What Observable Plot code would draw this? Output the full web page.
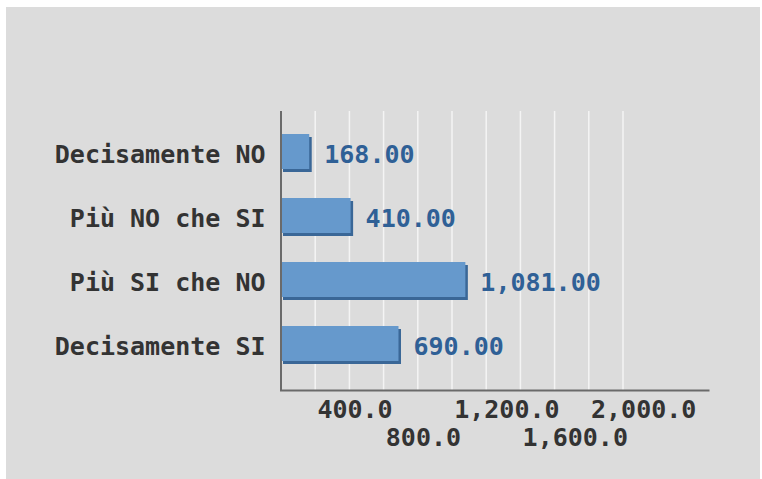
<!DOCTYPE html>
<html><head><meta charset="utf-8">
<script src="https://cdn.jsdelivr.net/npm/d3@7"></script>
<script src="https://cdn.jsdelivr.net/npm/@observablehq/plot@0.6"></script>
<style>
body{margin:0;background:#fff;}
#chart{padding:7px 0 0 6px;}
#chart svg{display:block;}
</style></head><body><div id="chart"></div>
<script>
const categories = ["Decisamente NO", "Più NO che SI", "Più SI che NO", "Decisamente SI"];
const values = [168, 410, 1081, 690];
const gridTicks = [200, 400, 600, 800, 1000, 1200, 1400, 1600, 1800, 2000];
const tickRow1 = [400, 1200, 2000];
const tickRow2 = [800, 1600];

const data = categories.map((c, i) => ({category: c, value: values[i]}));
const fmtTick = d3.format(",.1f");
const fmtVal = d3.format(",.2f");
const font = "'DejaVu Sans Mono', 'Liberation Mono', monospace";

const plot = Plot.plot({
  width: 754, height: 472,
  marginLeft: 274.5, marginRight: 52, marginTop: 104, marginBottom: 89,
  style: {background: "#dcdcdc", fontFamily: font, fontSize: "25px", fontWeight: "bold", overflow: "visible"},
  x: {domain: [0, 2500], axis: null},
  y: {domain: categories, range: [99.7, 383.3], padding: 0.409, axis: null},
  marks: [
    Plot.ruleX(gridTicks, {stroke: "#f4f4f4", strokeWidth: 1.5}),
    Plot.barX(data, {x: "value", y: "category", fill: "#3a6797", dx: 2.5, dy: 3, insetBottom: 3}),
    Plot.barX(data, {x: "value", y: "category", fill: "#6699cc", insetBottom: 3}),
    Plot.ruleX([0], {stroke: "#6a6a6a", strokeWidth: 2}),
    Plot.frame({anchor: "bottom", stroke: "#6a6a6a", strokeWidth: 2}),
    Plot.text(data, {x: "value", y: "category", text: d => fmtVal(d.value), textAnchor: "start", dx: 14.5, dy: 1, fill: "#2f6096"}),
    Plot.text(data, {y: "category", text: "category", frameAnchor: "left", textAnchor: "end", dx: -15.5, dy: 1, fill: "#333333"}),
    Plot.text(tickRow1, {x: d => d, text: d => fmtTick(d), frameAnchor: "bottom", textAnchor: "start", lineAnchor: "bottom", dx: -32, dy: 27.7, fill: "#333333"}),
    Plot.text(tickRow2, {x: d => d, text: d => fmtTick(d), frameAnchor: "bottom", textAnchor: "start", lineAnchor: "bottom", dx: -32, dy: 55.7, fill: "#333333"})
  ]
});
document.getElementById("chart").appendChild(plot);
</script></body></html>
